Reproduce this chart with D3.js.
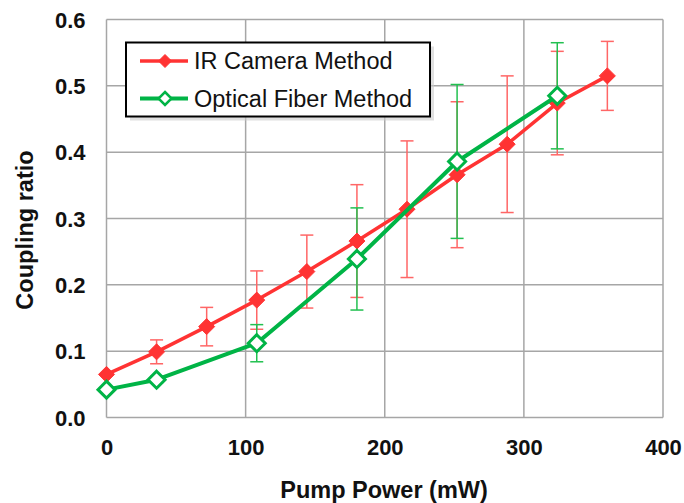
<!DOCTYPE html>
<html>
<head>
<meta charset="utf-8">
<script src="https://cdn.jsdelivr.net/npm/d3@7"></script>
<style>
  body { margin: 0; background: #fff; }
  text { font-family: Arial, "Liberation Sans", sans-serif; }
</style>
</head>
<body>
<div id="chart"></div>
<script>
// data
const irPower = [0, 36, 72, 108, 144, 180, 216, 252, 288, 324, 360];
const irRatio = [0.065, 0.099, 0.137, 0.177, 0.220, 0.266, 0.314, 0.366, 0.412, 0.474, 0.515];
const irErr   = [0, 0.018, 0.029, 0.044, 0.055, 0.085, 0.103, 0.110, 0.103, 0.078, 0.052];

const fiberPower = [0, 36, 108, 180, 252, 324];
const fiberRatio = [0.042, 0.057, 0.112, 0.239, 0.386, 0.485];
const fiberErr   = [0, 0.005, 0.028, 0.077, 0.116, 0.080];

const xTicks = [0, 100, 200, 300, 400];
const yTicks = [0, 0.1, 0.2, 0.3, 0.4, 0.5, 0.6];

const width = 684, height = 503;
const margin = { top: 19.5, right: 21, bottom: 85.5, left: 106.5 };
const w = width - margin.left - margin.right;
const h = height - margin.top - margin.bottom;

const svg = d3.select('#chart').append('svg')
  .attr('width', width)
  .attr('height', height);

const g = svg.append('g')
  .attr('transform', 'translate(' + margin.left + ',' + margin.top + ')');

const x = d3.scaleLinear().domain([0, 400]).range([0, w]);
const y = d3.scaleLinear().domain([0, 0.6]).range([h, 0]);

// grid
g.selectAll('.vgrid').data(xTicks).enter().append('line')
  .attr('x1', d => x(d)).attr('x2', d => x(d))
  .attr('y1', 0).attr('y2', h)
  .attr('stroke', '#a6a6a6').attr('stroke-width', 1.5);
g.selectAll('.hgrid').data(yTicks).enter().append('line')
  .attr('x1', 0).attr('x2', w)
  .attr('y1', d => y(d)).attr('y2', d => y(d))
  .attr('stroke', '#a6a6a6').attr('stroke-width', 1.5);

// axes (labels only)
const xAxis = d3.axisBottom(x).tickValues(xTicks).tickSize(0).tickPadding(22).tickFormat(d3.format('d'));
const yAxis = d3.axisLeft(y).tickValues(yTicks).tickSize(0).tickPadding(21).tickFormat(d3.format('.1f'));

g.append('g').attr('transform', 'translate(0,' + h + ')').call(xAxis)
  .call(a => a.select('.domain').remove())
  .selectAll('text').attr('font-size', 22).attr('font-weight', 'bold').attr('fill', '#111')
  .style('font-family', 'Arial, "Liberation Sans", sans-serif');
g.append('g').call(yAxis)
  .call(a => a.select('.domain').remove())
  .selectAll('text').attr('font-size', 22).attr('font-weight', 'bold').attr('fill', '#111')
  .attr('dy', '0.35em')
  .style('font-family', 'Arial, "Liberation Sans", sans-serif');

svg.append('text')
  .attr('x', 384).attr('y', 498)
  .attr('text-anchor', 'middle').attr('font-size', 23.5).attr('font-weight', 'bold').attr('fill', '#111')
  .text('Pump Power (mW)');
svg.append('text')
  .attr('transform', 'translate(33,230) rotate(-90)')
  .attr('text-anchor', 'middle').attr('font-size', 23.5).attr('font-weight', 'bold').attr('fill', '#111')
  .text('Coupling ratio');

const series = [
  { name: 'IR Camera Method', px: irPower, py: irRatio, err: irErr, color: '#ff3333', errColor: '#ff6666', filled: true, lw: 3.5 },
  { name: 'Optical Fiber Method', px: fiberPower, py: fiberRatio, err: fiberErr, color: '#00b446', errColor: '#22c050', filled: false, lw: 4 }
];

const diamond = r => 'M0,' + (-r) + 'L' + r + ',0L0,' + r + 'L' + (-r) + ',0Z';

// error bars
series.forEach(s => {
  const pts = s.px.map((p, i) => ({ x: p, y: s.py[i], e: s.err[i] }));
  const eg = g.append('g');
  pts.filter(d => d.e > 0).forEach(d => {
    eg.append('line')
      .attr('x1', x(d.x)).attr('x2', x(d.x))
      .attr('y1', y(d.y + d.e)).attr('y2', y(d.y - d.e))
      .attr('stroke', s.errColor).attr('stroke-width', 1.5);
    [d.y + d.e, d.y - d.e].forEach(v => {
      eg.append('line')
        .attr('x1', x(d.x) - 6.5).attr('x2', x(d.x) + 6.5)
        .attr('y1', y(v)).attr('y2', y(v))
        .attr('stroke', s.errColor).attr('stroke-width', 1.5);
    });
  });
});

// lines + markers
series.forEach(s => {
  const pts = s.px.map((p, i) => ({ x: p, y: s.py[i] }));
  g.append('path').datum(pts)
    .attr('fill', 'none').attr('stroke', s.color).attr('stroke-width', s.lw)
    .attr('stroke-linejoin', 'round')
    .attr('d', d3.line().x(d => x(d.x)).y(d => y(d.y)));
  g.selectAll(null).data(pts).enter().append('path')
    .attr('transform', d => 'translate(' + x(d.x) + ',' + y(d.y) + ')')
    .attr('d', s.filled ? diamond(8) : diamond(8.5))
    .attr('fill', s.filled ? s.color : '#fff')
    .attr('stroke', s.color).attr('stroke-width', s.filled ? 1 : 3);
});

// legend
const lg = svg.append('g').attr('transform', 'translate(126,42.5)');
lg.append('rect').attr('x', 4).attr('y', 4).attr('width', 304).attr('height', 74)
  .attr('fill', '#ccc').attr('opacity', 0.6);
lg.append('rect').attr('width', 304).attr('height', 74)
  .attr('fill', '#fff').attr('stroke', '#000').attr('stroke-width', 2);
series.forEach((s, i) => {
  const yy = 18.5 + i * 37.5;
  lg.append('line').attr('x1', 14).attr('x2', 62).attr('y1', yy).attr('y2', yy)
    .attr('stroke', s.color).attr('stroke-width', s.lw);
  lg.append('path').attr('transform', 'translate(39,' + yy + ')')
    .attr('d', diamond(6.5))
    .attr('fill', s.filled ? s.color : '#fff')
    .attr('stroke', s.color).attr('stroke-width', s.filled ? 1 : 2.5);
  lg.append('text').attr('x', 68).attr('y', yy).attr('dy', '0.35em')
    .attr('font-size', 23.5).attr('fill', '#111').text(s.name);
});
</script>
</body>
</html>
